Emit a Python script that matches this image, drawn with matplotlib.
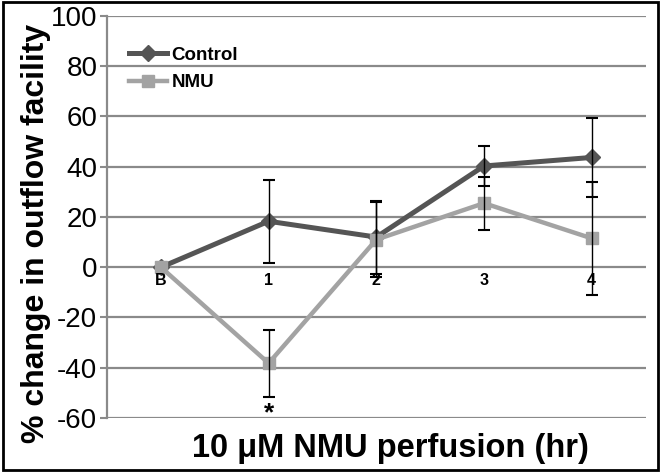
import matplotlib
matplotlib.use("Agg")
import matplotlib.pyplot as plt
from matplotlib.patches import Rectangle

plt.rcParams['font.family'] = ['Liberation Sans', 'DejaVu Sans']

categories = ['B', '1', '2', '3', '4']
control = [0, 18.3, 12, 40.3, 43.7]
control_err = [0, 16.5, 14.5, 8, 15.6]
nmu = [0, -38.2, 11, 25.5, 11.5]
nmu_err = [0, 13.3, 15, 10.5, 22.5]
yticks = [-60, -40, -20, 0, 20, 40, 60, 80, 100]

fig = plt.figure(figsize=(6.61, 4.73), dpi=100)
ax = fig.add_axes([0.162, 0.1163, 0.8146, 0.8499])
x = list(range(len(categories)))

grid_c = '#8a8a8a'
for t in yticks:
    ax.axhline(t, color=grid_c, lw=1.6, zorder=1)

ax.plot(x, control, color='#555555', lw=3.6, marker='D', ms=8, zorder=3, label='Control')
ax.plot(x, nmu, color='#a3a3a3', lw=3.2, marker='s', ms=8, zorder=4, label='NMU')
ax.errorbar(x[1:], control[1:], yerr=control_err[1:], fmt='none', ecolor='black',
            elinewidth=1.0, capsize=4, capthick=1.5, zorder=5)
ax.errorbar(x[1:], nmu[1:], yerr=nmu_err[1:], fmt='none', ecolor='black',
            elinewidth=1.0, capsize=4, capthick=1.5, zorder=5)

ax.set_xlim(-0.5, len(categories) - 0.5)
ax.set_ylim(-60, 100)
ax.set_yticks(yticks)
ax.set_yticklabels([str(t) for t in yticks], fontsize=20)
ax.tick_params(axis='y', direction='out', length=5, width=1.5, color=grid_c, pad=2)
ax.set_xticks([])
for s in ['top', 'right', 'bottom']:
    ax.spines[s].set_visible(False)
ax.spines['left'].set_color(grid_c)
ax.spines['left'].set_linewidth(1.6)

for i, c in enumerate(categories):
    ax.annotate(c, xy=(i, 0), xytext=(0, -4), textcoords='offset points',
                ha='center', va='top', fontsize=11.5, fontweight='bold', zorder=6)

ax.annotate('*', xy=(1, -58), ha='center', va='center', fontsize=19, fontweight='bold')

ax.set_ylabel('% change in outflow facility', fontsize=23, fontweight='bold')
ax.set_xlabel('10 \u03bcM NMU perfusion (hr)', fontsize=23.5, fontweight='bold')
ax.yaxis.set_label_coords(-0.105, 0.46)
ax.xaxis.set_label_coords(0.526, -0.038)
ax.xaxis.label.set_va('top')

leg = ax.legend(loc='upper left', bbox_to_anchor=(0.01, 0.965), frameon=False,
                prop={'weight': 'bold', 'size': 13.5}, handlelength=2.0, handletextpad=0.25,
                labelspacing=0.55)

fig.patches.append(Rectangle((0.004, 0.006), 0.992, 0.99, transform=fig.transFigure,
                             fill=False, edgecolor='black', lw=2))

fig.savefig('out.png', dpi=100)
